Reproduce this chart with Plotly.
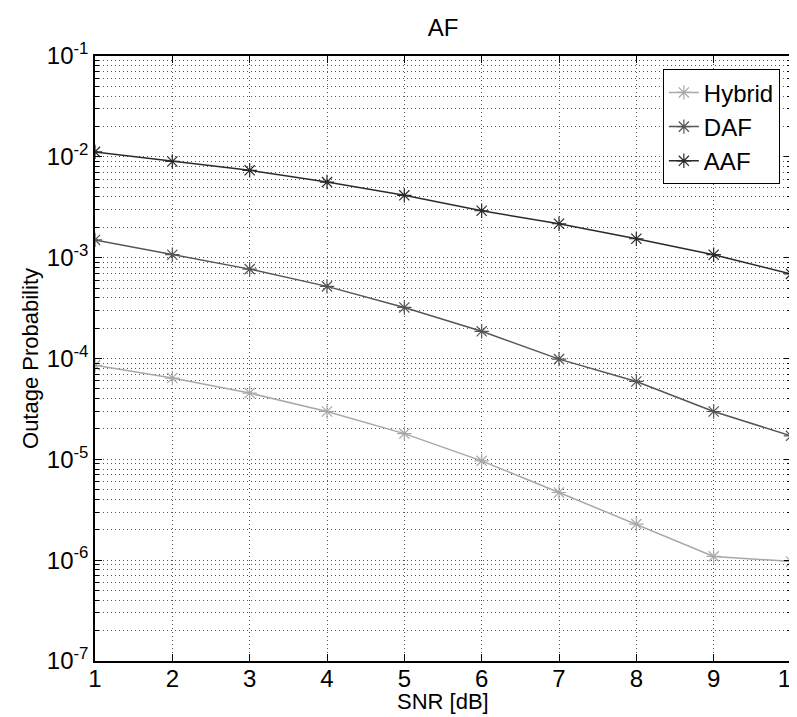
import plotly.graph_objects as go

snr = [1, 2, 3, 4, 5, 6, 7, 8, 9, 10]
hybrid = [8.55e-5, 6.4e-5, 4.54e-5, 2.98e-5, 1.80e-5, 9.66e-6, 4.69e-6, 2.28e-6, 1.09e-6, 9.7e-7]
daf = [1.50e-3, 1.07e-3, 7.7e-4, 5.19e-4, 3.21e-4, 1.86e-4, 9.86e-5, 5.92e-5, 2.98e-5, 1.71e-5]
aaf = [1.12e-2, 9.0e-3, 7.35e-3, 5.62e-3, 4.15e-3, 2.92e-3, 2.17e-3, 1.54e-3, 1.07e-3, 6.9e-4]

y_tickvals = [1e-1, 1e-2, 1e-3, 1e-4, 1e-5, 1e-6, 1e-7]
y_ticktext = ["10<sup>-1</sup>", "10<sup>-2</sup>", "10<sup>-3</sup>", "10<sup>-4</sup>",
              "10<sup>-5</sup>", "10<sup>-6</sup>", "10<sup>-7</sup>"]

FONT = "Liberation Sans, Arial, Helvetica, sans-serif"
GRID = "#555555"
DOT = "1px,3px"

fig = go.Figure()
series = [
    ("Hybrid", hybrid, "#a8a8a8"),
    ("DAF", daf, "#555555"),
    ("AAF", aaf, "#2a2a2a"),
]
for name, vals, col in series:
    fig.add_trace(go.Scatter(
        x=snr, y=vals, name=name, mode="lines+markers",
        line=dict(color=col, width=1.5),
        marker=dict(symbol="asterisk-open", size=12, color=col,
                    line=dict(color=col, width=1.2)),
    ))

fig.update_layout(
    width=797, height=717,
    margin=dict(l=87, r=14, t=48, b=64),
    plot_bgcolor="white", paper_bgcolor="white",
    font=dict(family=FONT, size=24, color="black"),
    title=dict(text="AF", x=0.5, xanchor="center", xref="paper",
               y=1 - 20 / 717, yref="container", yanchor="middle",
               font=dict(size=24)),
    showlegend=True,
    legend=dict(x=0.984, y=0.978, xanchor="right", yanchor="top",
                bgcolor="white", bordercolor="black", borderwidth=1,
                font=dict(size=24), tracegroupgap=0, itemwidth=30),
    annotations=[dict(text="SNR [dB]", xref="paper", yref="paper",
                      x=0.5, y=-(693 - 653) / 605, xanchor="center",
                      yanchor="middle", showarrow=False,
                      font=dict(size=22))],
)

fig.update_xaxes(
    range=[1, 10], tickvals=snr, ticks="inside", ticklen=7, tickcolor="black",
    showline=True, linecolor="black", linewidth=1.5, mirror="ticks",
    showgrid=True, gridcolor=GRID, griddash=DOT, gridwidth=1,
    zeroline=False, tickfont=dict(size=24), automargin=False,
    ticklabelstandoff=-5,
)
fig.update_yaxes(
    type="log", range=[-7, -1], tickvals=y_tickvals, ticktext=y_ticktext,
    ticks="inside", ticklen=7, tickcolor="black",
    showline=True, linecolor="black", linewidth=1.5, mirror="ticks",
    showgrid=True, gridcolor=GRID, griddash=DOT, gridwidth=1,
    zeroline=False, tickfont=dict(size=24), automargin=False,
    minor=dict(ticks="inside", ticklen=4, tickcolor="black", showgrid=True,
               gridcolor=GRID, griddash=DOT, gridwidth=1,
               dtick="D1"),
    title=dict(text="Outage Probability", font=dict(size=22), standoff=2),
)

fig.write_html("out.html")
